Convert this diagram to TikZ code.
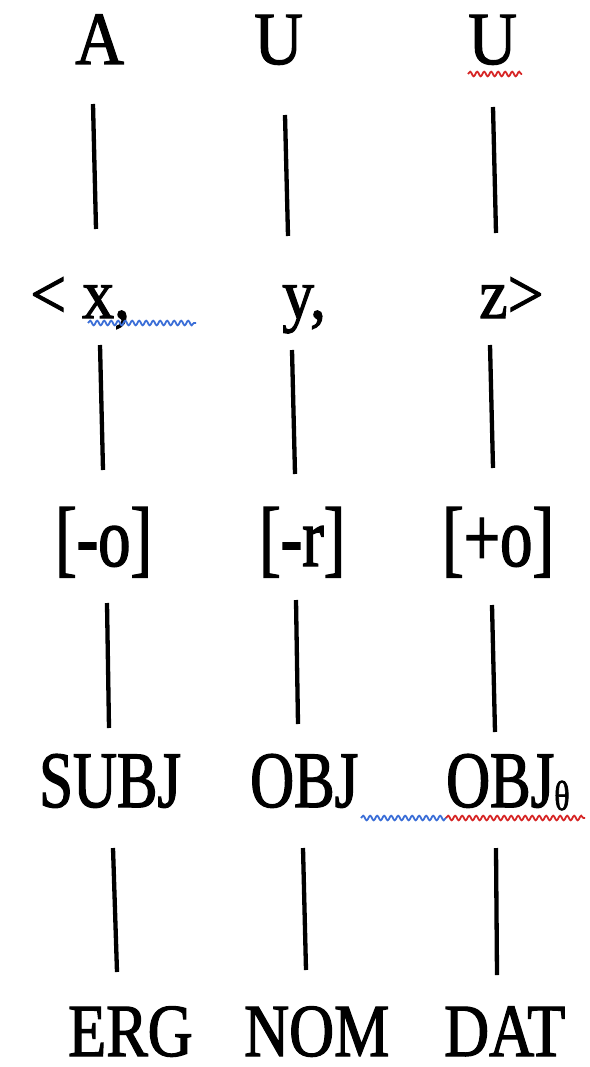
\documentclass[tikz,border=0pt]{standalone}
\usepackage{fontspec}
\setmainfont{Liberation Serif}
\newfontfamily\wideserif{Liberation Serif}[FakeStretch=0.9,FakeBold=1.6]
\newfontfamily\midserif{Liberation Serif}[FakeStretch=0.83,FakeBold=1.6]
\newfontfamily\slimserif{Liberation Serif}[FakeStretch=0.76,FakeBold=1.6]
\usetikzlibrary{decorations.pathmorphing}
\definecolor{spellblue}{RGB}{59,110,215}
\definecolor{spellred}{RGB}{214,38,38}

\begin{document}
\begin{tikzpicture}[x=1pt,y=-1pt,
    lbl/.style={anchor=base west,inner sep=0pt},
    link/.style={line width=4.3pt},
    squig/.style={line width=1.8pt,decorate,decoration={snake,amplitude=2.3pt,segment length=7pt}}]
    \useasboundingbox (0,0) rectangle (589,1067);

    % role row
    \node[lbl,font=\wideserif\fontsize{75}{78}\selectfont] (roleA)  at (75,64)  {A};
    \node[lbl,font=\wideserif\fontsize{75}{78}\selectfont] (roleU1) at (254,64) {U};
    \node[lbl,font=\wideserif\fontsize{75}{78}\selectfont] (roleU2) at (468,64) {U};

    % arguments
    \node[lbl,font=\wideserif\fontsize{71}{74}\selectfont] (argx) at (30,318)  {< x,};
    \node[lbl,font=\wideserif\fontsize{71}{74}\selectfont] (argy) at (282,318) {y,};
    \node[lbl,font=\wideserif\fontsize{71}{74}\selectfont] (argz) at (479,318) {z>};

    % features
    \node[lbl,font=\slimserif\fontsize{85}{88}\selectfont] (featx) at (55,566)  {[-o]};
    \node[lbl,font=\slimserif\fontsize{85}{88}\selectfont] (featy) at (259,566) {[-r]};
    \node[lbl,font=\slimserif\fontsize{85}{88}\selectfont] (featz) at (442,566) {[+o]};

    % functions
    \node[lbl,font=\slimserif\fontsize{80}{84}\selectfont] (gfx) at (39,807)  {SUBJ};
    \node[lbl,font=\slimserif\fontsize{80}{84}\selectfont] (gfy) at (250,807) {OBJ};
    \node[lbl,font=\slimserif\fontsize{80}{84}\selectfont] (gfz) at (446,807)
      {OBJ\raisebox{-3pt}{\fontsize{42}{42}\selectfont θ}};

    % cases
    \node[lbl,font=\midserif\fontsize{75}{78}\selectfont] (casex) at (68,1056)  {ERG};
    \node[lbl,font=\midserif\fontsize{75}{78}\selectfont] (casey) at (244,1056) {NOM};
    \node[lbl,font=\midserif\fontsize{75}{78}\selectfont] (casez) at (444,1056) {DAT};

    % links between the rows
    \foreach \n/\xa/\ya/\xb/\yb in {
        ax/93/104/96/229,   ay/285/115/288/236, az/493/107/496/233,
        bx/100/345/103/470, by/292/350/295/474, bz/490/345/493/468,
        cx/107/603/109/728, cy/296/600/298/724, cz/492/605/495/732,
        dx/113/848/117/972, dy/303/848/306/970, dz/496/848/497/975} {
      \coordinate (\n top) at (\xa,\ya);
      \coordinate (\n bot) at (\xb,\yb);
      \draw[link] (\n top) -- (\n bot);
    }

    % spell-check underlines
    \draw[squig,spellred]  (468,74)  -- (522,74);
    \draw[squig,spellblue] (88,323)  -- (196,323);
    \draw[squig,spellblue] (361,818) -- (446,818);
    \draw[squig,spellred]  (446,818) -- (585,818);
  \end{tikzpicture}
\end{document}
